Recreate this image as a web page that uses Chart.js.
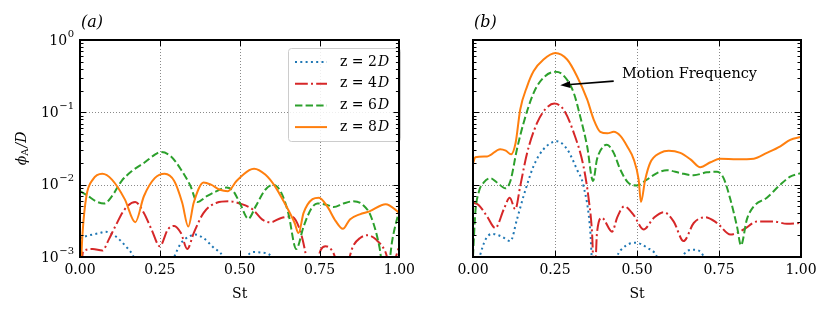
<!DOCTYPE html>
<html><head><meta charset="utf-8">
<script src="https://cdn.jsdelivr.net/npm/chart.js@4.4.1/dist/chart.umd.min.js"></script>
<style>
html,body{margin:0;padding:0;background:#fff;overflow:hidden;width:830px;height:315px}
#wa{position:absolute;left:0;top:0;width:420px;height:315px}
#wb{position:absolute;left:420px;top:0;width:410px;height:315px}
</style></head>
<body>
<div id="wa"><canvas id="ca" width="420" height="315"></canvas></div>
<div id="wb"><canvas id="cb" width="410" height="315"></canvas></div>
<script>
// ---------- tick labels ----------
const xTickValues = [0, 0.25, 0.5, 0.75, 1.0];
const xTickLabels = ['0.00', '0.25', '0.50', '0.75', '1.00'];
const yTickValues = [1e-3, 1e-2, 1e-1, 1];
const yTickExponents = ['\u22123', '\u22122', '\u22121', '0'];
const seriesLabels = ['z = 2D', 'z = 4D', 'z = 6D', 'z = 8D'];

// ---------- panel (a) ----------
const a_z2_St  = [0.0,0.02,0.061,0.08,0.11,0.143,0.168,0.19,0.27,0.295,0.316,0.341,0.36,0.387,0.418,0.448,0.47,0.50,0.524,0.545,0.57,0.60,0.62,1.0];
const a_z2_phi = [0.00182,0.00195,0.00214,0.00224,0.00195,0.00141,0.001,0.0005,0.0005,0.001,0.00155,0.00191,0.00204,0.00182,0.00135,0.001,0.0005,0.0005,0.00102,0.00117,0.00115,0.001,0.0005,0.0005];

const a_z4_St  = [0.0,0.01,0.04,0.07,0.09,0.11,0.14,0.173,0.20,0.224,0.25,0.275,0.295,0.316,0.336,0.356,0.387,0.428,0.468,0.50,0.54,0.57,0.596,0.63,0.662,0.688,0.708,0.72,0.754,0.769,0.794,0.82,0.855,0.876,0.90,0.927,0.957,0.972,1.0];
const a_z4_phi = [0.0004,0.0012,0.00129,0.00123,0.00174,0.00263,0.00457,0.00575,0.00407,0.0024,0.00141,0.0024,0.00269,0.00214,0.00129,0.00214,0.00407,0.00562,0.00589,0.0055,0.00457,0.00331,0.00302,0.00347,0.00363,0.0024,0.001,0.0004,0.00126,0.00141,0.00112,0.0005,0.00141,0.00182,0.002,0.00174,0.00115,0.0007,0.00141];

const a_z6_St  = [0.0,0.02,0.05,0.076,0.10,0.13,0.163,0.20,0.244,0.255,0.285,0.316,0.346,0.367,0.397,0.428,0.458,0.48,0.50,0.527,0.55,0.58,0.605,0.63,0.652,0.677,0.70,0.723,0.743,0.774,0.794,0.825,0.855,0.886,0.911,0.937,0.957,0.978,1.0];
const a_z6_phi = [0.00813,0.00724,0.00589,0.0055,0.00692,0.01122,0.01549,0.01995,0.02754,0.02818,0.02455,0.01622,0.00955,0.00575,0.00692,0.00813,0.00912,0.00813,0.00562,0.00339,0.00501,0.00851,0.0100,0.00776,0.00407,0.00129,0.00263,0.00457,0.0055,0.00525,0.0049,0.0055,0.00589,0.00525,0.00363,0.00141,0.0004,0.00174,0.00457];

const a_z8_St  = [0.0,0.008,0.02,0.04,0.07,0.10,0.14,0.173,0.20,0.234,0.265,0.295,0.32,0.339,0.356,0.387,0.41,0.438,0.463,0.49,0.53,0.545,0.58,0.61,0.64,0.672,0.684,0.70,0.728,0.748,0.774,0.80,0.823,0.845,0.876,0.906,0.957,1.0];
const a_z8_phi = [0.0004,0.00214,0.00692,0.01175,0.01413,0.01175,0.00631,0.00302,0.00692,0.0123,0.01413,0.01122,0.00562,0.00263,0.00562,0.01072,0.0100,0.00851,0.00813,0.01122,0.01585,0.0166,0.0138,0.00955,0.00562,0.00295,0.00214,0.00407,0.00631,0.00661,0.00501,0.00316,0.00245,0.00331,0.00389,0.00427,0.00537,0.00407];

// ---------- panel (b) ----------
const b_z2_St  = [0.0,0.022,0.038,0.058,0.088,0.114,0.134,0.154,0.185,0.215,0.256,0.287,0.317,0.337,0.358,0.363,0.38,0.42,0.439,0.459,0.495,0.53,0.561,0.58,0.62,0.642,0.673,0.703,0.72,1.0];
const b_z2_phi = [0.0004,0.00107,0.00174,0.00209,0.00191,0.00166,0.00331,0.00692,0.0182,0.0309,0.0398,0.0309,0.0162,0.00955,0.00214,0.00079,0.0004,0.0004,0.001,0.00135,0.00158,0.00135,0.001,0.0005,0.0005,0.00107,0.00126,0.00102,0.0005,0.0005];

const b_z4_St  = [0.0,0.017,0.043,0.068,0.094,0.112,0.129,0.144,0.165,0.195,0.22,0.248,0.276,0.307,0.337,0.353,0.363,0.37,0.378,0.393,0.424,0.44,0.461,0.49,0.52,0.551,0.581,0.612,0.642,0.673,0.708,0.744,0.785,0.825,0.866,0.917,0.957,1.0];
const b_z4_phi = [0.00562,0.00525,0.00363,0.00251,0.00457,0.00661,0.00457,0.00955,0.0275,0.0708,0.1096,0.132,0.1096,0.0525,0.0178,0.00617,0.00214,0.0004,0.00214,0.00347,0.00224,0.00355,0.00501,0.0038,0.0024,0.00347,0.00417,0.00309,0.00166,0.00295,0.00355,0.00295,0.00204,0.0024,0.00309,0.00309,0.00288,0.00295];

const b_z6_St  = [0.0,0.007,0.017,0.033,0.053,0.073,0.099,0.114,0.134,0.154,0.185,0.215,0.251,0.276,0.307,0.327,0.348,0.366,0.378,0.398,0.408,0.429,0.449,0.475,0.50,0.53,0.561,0.591,0.632,0.673,0.713,0.744,0.764,0.785,0.805,0.817,0.835,0.856,0.896,0.937,0.967,1.0];
const b_z6_phi = [0.00102,0.00407,0.00776,0.01072,0.0123,0.01072,0.00891,0.01122,0.0309,0.0708,0.186,0.302,0.363,0.324,0.186,0.0871,0.0339,0.01122,0.0224,0.0339,0.0355,0.0275,0.0162,0.01047,0.00977,0.01175,0.01445,0.01585,0.01445,0.0135,0.0148,0.0151,0.0123,0.00617,0.00263,0.00145,0.00331,0.00501,0.00661,0.0100,0.0129,0.01445];

const b_z8_St  = [0.0,0.007,0.043,0.083,0.10,0.116,0.13,0.144,0.165,0.185,0.215,0.251,0.287,0.317,0.348,0.368,0.388,0.41,0.429,0.45,0.47,0.49,0.505,0.512,0.525,0.54,0.571,0.597,0.632,0.663,0.693,0.724,0.754,0.805,0.856,0.896,0.937,0.967,1.0];
const b_z8_phi = [0.0195,0.024,0.02455,0.0309,0.0295,0.0263,0.038,0.1096,0.229,0.372,0.537,0.661,0.537,0.316,0.151,0.0794,0.0537,0.0513,0.0537,0.0468,0.0339,0.0224,0.01175,0.00575,0.01175,0.01995,0.0275,0.0295,0.0275,0.0224,0.0174,0.0204,0.0229,0.0224,0.0229,0.0275,0.0339,0.0417,0.0457];

// annotation anchor (data coordinates of panel b)
const annText = 'Motion Frequency';
const annTextAt = {x: 0.454, y: 0.335};
const annTail = {x: 0.429, y: 0.27};
const annTip = {x: 0.266, y: 0.236};

const SERIF = '"DejaVu Serif", serif';
const styles = [
  {color:'#1f77b4', dash:[2,3.3]},
  {color:'#d62728', dash:[12.8,3.2,2,3.2]},
  {color:'#2ca02c', dash:[7.4,3.2]},
  {color:'#ff7f0e', dash:[]}
];

function pts(xs, ys){ return xs.map((x,i)=>({x:x, y:ys[i]})); }
function makeDatasets(series){
  return series.map((s,i)=>({
    label: seriesLabels[i],
    data: pts(s[0], s[1]),
    borderColor: styles[i].color,
    borderDash: styles[i].dash,
    borderWidth: 2,
    borderCapStyle: 'butt',
    pointRadius: 0,
    fill: false,
    cubicInterpolationMode: 'monotone',
    order: 4 - i
  }));
}

function decoPlugin(cfg){
  return {
    id: 'deco',
    beforeDatasetsDraw(chart){
      const ctx = chart.ctx, a = chart.chartArea, xs = chart.scales.x, ys = chart.scales.y;
      ctx.save();
      ctx.strokeStyle = '#8a8a8a'; ctx.lineWidth = 1; ctx.setLineDash([1,2]);
      [0.25,0.5,0.75].forEach(v=>{
        const px = Math.round(xs.getPixelForValue(v)) + 0.5;
        ctx.beginPath(); ctx.moveTo(px, a.top); ctx.lineTo(px, a.bottom); ctx.stroke();
      });
      [0.01,0.1].forEach(v=>{
        const py = Math.round(ys.getPixelForValue(v)) + 0.5;
        ctx.beginPath(); ctx.moveTo(a.left, py); ctx.lineTo(a.right, py); ctx.stroke();
      });
      ctx.restore();
    },
    afterDatasetsDraw(chart){
      const ctx = chart.ctx, a = chart.chartArea, xs = chart.scales.x, ys = chart.scales.y;
      ctx.save();
      // legend
      if (cfg.legend){
        const L = {x:288.5, y:48.5, w:112, h:93};
        ctx.fillStyle = 'rgba(255,255,255,0.85)';
        ctx.strokeStyle = '#cccccc'; ctx.lineWidth = 1;
        ctx.beginPath(); ctx.roundRect(L.x, L.y, L.w, L.h, 3); ctx.fill(); ctx.stroke();
        chart.data.datasets.forEach((ds,i)=>{
          const cy = 62 + i*21.7;
          ctx.strokeStyle = ds.borderColor; ctx.lineWidth = 2; ctx.setLineDash(ds.borderDash);
          ctx.beginPath(); ctx.moveTo(295, cy); ctx.lineTo(327, cy); ctx.stroke();
          ctx.setLineDash([]);
          ctx.fillStyle = '#000'; ctx.textBaseline = 'middle'; ctx.textAlign = 'left';
          const lab = ds.label, main = lab.slice(0, -1), last = lab.slice(-1);
          ctx.font = '14px ' + SERIF;
          ctx.fillText(main, 340, cy);
          const w = ctx.measureText(main).width;
          ctx.font = 'italic 14px ' + SERIF;
          ctx.fillText(last, 340 + w + 1, cy);
        });
      }
      // annotation
      if (cfg.annotation){
        const tx = xs.getPixelForValue(annTail.x), ty = ys.getPixelForValue(annTail.y);
        const hx = xs.getPixelForValue(annTip.x), hy = ys.getPixelForValue(annTip.y);
        const ang = Math.atan2(hy - ty, hx - tx), hl = 10, hw = 3.5;
        const bx = hx - hl*Math.cos(ang), by = hy - hl*Math.sin(ang);
        ctx.strokeStyle = '#000'; ctx.lineWidth = 1.6; ctx.setLineDash([]);
        ctx.beginPath(); ctx.moveTo(tx, ty); ctx.lineTo(bx, by); ctx.stroke();
        ctx.fillStyle = '#000';
        ctx.beginPath(); ctx.moveTo(hx, hy);
        ctx.lineTo(bx + hw*Math.sin(ang), by - hw*Math.cos(ang));
        ctx.lineTo(bx - hw*Math.sin(ang), by + hw*Math.cos(ang));
        ctx.closePath(); ctx.fill();
        ctx.font = '14.5px ' + SERIF; ctx.textBaseline = 'middle'; ctx.textAlign = 'left';
        ctx.fillText(annText, xs.getPixelForValue(annTextAt.x), ys.getPixelForValue(annTextAt.y));
      }
      // inward ticks
      ctx.strokeStyle = '#000'; ctx.lineWidth = 1; ctx.setLineDash([]);
      xTickValues.forEach(v=>{
        const px = Math.round(xs.getPixelForValue(v)) + 0.5;
        ctx.beginPath();
        ctx.moveTo(px, a.bottom); ctx.lineTo(px, a.bottom - 6);
        ctx.moveTo(px, a.top); ctx.lineTo(px, a.top + 6);
        ctx.stroke();
      });
      yTickValues.forEach(v=>{
        const py = Math.round(ys.getPixelForValue(v)) + 0.5;
        ctx.beginPath();
        ctx.moveTo(a.left, py); ctx.lineTo(a.left + 6, py);
        ctx.moveTo(a.right, py); ctx.lineTo(a.right - 6, py);
        ctx.stroke();
      });
      for (let k = -3; k < 0; k++){
        for (let m = 2; m <= 9; m++){
          const py = Math.round(ys.getPixelForValue(m * Math.pow(10, k))) + 0.5;
          ctx.beginPath();
          ctx.moveTo(a.left, py); ctx.lineTo(a.left + 3.5, py);
          ctx.moveTo(a.right, py); ctx.lineTo(a.right - 3.5, py);
          ctx.stroke();
        }
      }
      // frame
      ctx.lineWidth = 2;
      ctx.strokeRect(Math.round(a.left), Math.round(a.top), Math.round(a.right) - Math.round(a.left), Math.round(a.bottom) - Math.round(a.top));
      // y tick labels
      ctx.fillStyle = '#000';
      if (cfg.yLabels){
        yTickValues.forEach((v,i)=>{
          const py = ys.getPixelForValue(v);
          ctx.textAlign = 'right'; ctx.textBaseline = 'middle';
          ctx.font = '10px ' + SERIF;
          const ew = ctx.measureText(yTickExponents[i]).width;
          ctx.fillText(yTickExponents[i], a.left - 6, py - 6);
          ctx.font = '14px ' + SERIF;
          ctx.fillText('10', a.left - 6 - ew - 0.5, py + 1);
        });
        // y axis title  phi_A / D
        ctx.save();
        ctx.translate(22, (a.top + a.bottom)/2);
        ctx.rotate(-Math.PI/2);
        ctx.textBaseline = 'middle'; ctx.textAlign = 'left';
        ctx.font = 'italic 14px ' + SERIF; const w1 = ctx.measureText('\u03d5').width;
        ctx.font = '10px ' + SERIF; const w2 = ctx.measureText('A').width;
        ctx.font = 'italic 14px ' + SERIF; const w3 = ctx.measureText('/D').width;
        let x0 = -(w1 + w2 + w3 + 1)/2;
        ctx.font = 'italic 14px ' + SERIF; ctx.fillText('\u03d5', x0, 0);
        ctx.font = '10px ' + SERIF; ctx.fillText('A', x0 + w1, 3.5);
        ctx.font = 'italic 14px ' + SERIF; ctx.fillText('/D', x0 + w1 + w2 + 1, 0);
        ctx.restore();
      }
      // panel label
      ctx.font = 'italic 16px ' + SERIF; ctx.textAlign = 'left'; ctx.textBaseline = 'middle';
      ctx.fillText(cfg.panel, a.left + 1, 23);
      ctx.restore();
    }
  };
}

function makeOptions(padRight, yWidth){
  return {
    responsive: false, animation: false, devicePixelRatio: 1,
    layout: {padding: {left: 0, right: padRight, top: 40, bottom: 0}},
    plugins: {legend: {display: false}, tooltip: {enabled: false}},
    scales: {
      x: {
        type: 'linear', min: 0, max: 1,
        afterBuildTicks: s => { s.ticks = xTickValues.map(v => ({value: v})); },
        afterFit: s => { s.height = 58; },
        grid: {display: false, drawTicks: false}, border: {display: false},
        ticks: {font: {family: SERIF, size: 14}, color: '#000', padding: 5, maxRotation: 0, autoSkip: false,
                callback: (v, i) => xTickLabels[i]},
        title: {display: true, text: 'St', font: {family: SERIF, size: 14}, color: '#000', padding: {top: 0, bottom: 12}}
      },
      y: {
        type: 'logarithmic', min: 1e-3, max: 1,
        afterFit: s => { s.width = yWidth; },
        grid: {display: false, drawTicks: false}, border: {display: false},
        ticks: {display: false}
      }
    }
  };
}

new Chart(document.getElementById('ca'), {
  type: 'line',
  data: {datasets: makeDatasets([[a_z2_St,a_z2_phi],[a_z4_St,a_z4_phi],[a_z6_St,a_z6_phi],[a_z8_St,a_z8_phi]])},
  options: makeOptions(12, 80),
  plugins: [decoPlugin({legend: true, annotation: false, yLabels: true, panel: '(a)'})]
});
new Chart(document.getElementById('cb'), {
  type: 'line',
  data: {datasets: makeDatasets([[b_z2_St,b_z2_phi],[b_z4_St,b_z4_phi],[b_z6_St,b_z6_phi],[b_z8_St,b_z8_phi]])},
  options: makeOptions(29, 53),
  plugins: [decoPlugin({legend: false, annotation: true, yLabels: false, panel: '(b)'})]
});
</script>
</body></html>
